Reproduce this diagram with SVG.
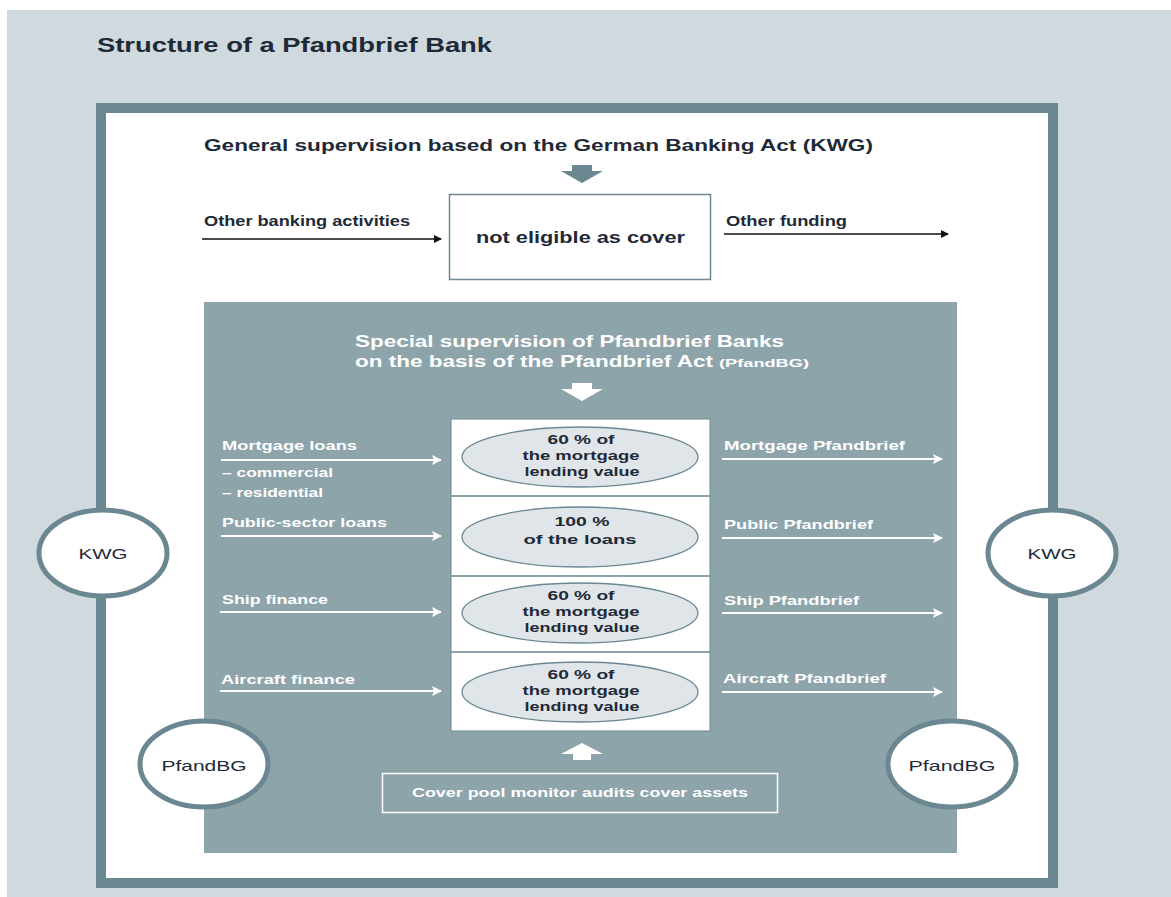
<svg xmlns="http://www.w3.org/2000/svg" width="1171" height="897" viewBox="0 0 1171 897">
<style>
text{font-family:"Liberation Sans","DejaVu Sans",sans-serif;font-weight:bold;}
.dk{fill:#1f2a38;}
.wt{fill:#ffffff;}
.t13{font-size:13px;}
.lbl{font-size:13.5px;}
.circ{fill:#ffffff;stroke:#6a8792;stroke-width:5;}
.inner{fill:#dfe5e8;stroke:#6a8792;stroke-width:1.3;}
.blk{stroke:#111111;stroke-width:1.6;fill:none;}
.wln{stroke:#ffffff;stroke-width:2;fill:none;}
.reg{font-weight:normal;font-size:15px;}
</style>
<defs>
<marker id="ab" markerWidth="8" markerHeight="8" refX="7" refY="4" orient="auto" markerUnits="userSpaceOnUse">
<path d="M0,0 L8,4 L0,8 Z" fill="#111111"/>
</marker>
<marker id="aw" markerWidth="10" markerHeight="10" refX="9" refY="5" orient="auto" markerUnits="userSpaceOnUse">
<path d="M0,0 L10,5 L0,10 L2,5 Z" fill="#ffffff"/>
</marker>
</defs>
<rect x="7" y="10" width="1164" height="887" fill="#d0d9dd"/>
<text x="97" y="52" class="dk" font-size="20" textLength="395" lengthAdjust="spacingAndGlyphs">Structure of a Pfandbrief Bank</text>
<g id="frame">
<rect x="101" y="108" width="952" height="775" fill="#ffffff" stroke="#6a8792" stroke-width="10"/>
</g>
<g id="general">
<text x="204" y="151" class="dk" font-size="17" textLength="669" lengthAdjust="spacingAndGlyphs">General supervision based on the German Banking Act (KWG)</text>
<path d="M572,165 H592 V171 H603 L582,183 L561,171 H572 Z" fill="#6a8792"/>
</g>
<g id="not-eligible">
<rect x="449.5" y="194.5" width="261" height="85" fill="#ffffff" stroke="#6a8792" stroke-width="1.5"/>
<text x="580.5" y="243" text-anchor="middle" class="dk" font-size="17" textLength="209" lengthAdjust="spacingAndGlyphs">not eligible as cover</text>
</g>
<g id="panel">
<rect x="204" y="302" width="753" height="551" fill="#8ea4ab"/>
<text x="355" y="347" class="wt" font-size="17" textLength="429" lengthAdjust="spacingAndGlyphs">Special supervision of Pfandbrief Banks</text>
<text x="355" y="367" class="wt" font-size="17" textLength="358" lengthAdjust="spacingAndGlyphs">on the basis of the Pfandbrief Act</text>
<text x="719" y="367" class="wt" font-size="11" textLength="90" lengthAdjust="spacingAndGlyphs">(PfandBG)</text>
<path d="M572,383 H592 V389 H603 L582,401 L561,389 H572 Z" fill="#ffffff"/>
<path d="M573,760 H591 V754 H603 L582,743 L561,754 H573 Z" fill="#ffffff"/>
</g>
<g id="cover-column">
<rect x="451" y="419" width="259" height="312" fill="#ffffff" stroke="#6a8792" stroke-width="1"/>
<line x1="451" y1="496" x2="710" y2="496" stroke="#6a8792" stroke-width="1.3"/>
<line x1="451" y1="576" x2="710" y2="576" stroke="#6a8792" stroke-width="1.3"/>
<line x1="451" y1="652" x2="710" y2="652" stroke="#6a8792" stroke-width="1.3"/>
</g>
<g id="cover-mortgage">
<ellipse cx="580" cy="457" rx="118" ry="30" class="inner"/>
<text x="581" y="444" text-anchor="middle" class="dk t13" textLength="67" lengthAdjust="spacingAndGlyphs">60 % of</text>
<text x="581" y="460" text-anchor="middle" class="dk t13" textLength="117" lengthAdjust="spacingAndGlyphs">the mortgage</text>
<text x="582" y="476" text-anchor="middle" class="dk t13" textLength="115" lengthAdjust="spacingAndGlyphs">lending value</text>
</g>
<g id="cover-public">
<ellipse cx="580" cy="537" rx="118" ry="30" class="inner"/>
<text x="582" y="526" text-anchor="middle" class="dk t13" textLength="55" lengthAdjust="spacingAndGlyphs">100 %</text>
<text x="580" y="544" text-anchor="middle" class="dk t13" textLength="113" lengthAdjust="spacingAndGlyphs">of the loans</text>
</g>
<g id="cover-ship">
<ellipse cx="580" cy="613" rx="118" ry="30" class="inner"/>
<text x="581" y="600" text-anchor="middle" class="dk t13" textLength="67" lengthAdjust="spacingAndGlyphs">60 % of</text>
<text x="581" y="616" text-anchor="middle" class="dk t13" textLength="117" lengthAdjust="spacingAndGlyphs">the mortgage</text>
<text x="582" y="632" text-anchor="middle" class="dk t13" textLength="115" lengthAdjust="spacingAndGlyphs">lending value</text>
</g>
<g id="cover-aircraft">
<ellipse cx="580" cy="692" rx="118" ry="30" class="inner"/>
<text x="581" y="679" text-anchor="middle" class="dk t13" textLength="67" lengthAdjust="spacingAndGlyphs">60 % of</text>
<text x="581" y="695" text-anchor="middle" class="dk t13" textLength="117" lengthAdjust="spacingAndGlyphs">the mortgage</text>
<text x="582" y="711" text-anchor="middle" class="dk t13" textLength="115" lengthAdjust="spacingAndGlyphs">lending value</text>
</g>
<g id="monitor">
<rect x="382.5" y="773.5" width="395" height="39" fill="none" stroke="#ffffff" stroke-width="1.5"/>
<text x="580" y="797" text-anchor="middle" class="wt t13" textLength="336" lengthAdjust="spacingAndGlyphs">Cover pool monitor audits cover assets</text>
</g>
<g id="labels-left">
<text x="204" y="226" class="dk" font-size="14" textLength="206" lengthAdjust="spacingAndGlyphs">Other banking activities</text>
<text x="222" y="450" class="wt lbl" textLength="135" lengthAdjust="spacingAndGlyphs">Mortgage loans</text>
<text x="222" y="477" class="wt t13" font-weight="normal" textLength="111" lengthAdjust="spacingAndGlyphs">– commercial</text>
<text x="222" y="497" class="wt t13" font-weight="normal" textLength="101" lengthAdjust="spacingAndGlyphs">– residential</text>
<text x="222" y="527" class="wt lbl" textLength="165" lengthAdjust="spacingAndGlyphs">Public-sector loans</text>
<text x="222" y="604" class="wt lbl" textLength="106" lengthAdjust="spacingAndGlyphs">Ship finance</text>
<text x="221" y="684" class="wt lbl" textLength="134" lengthAdjust="spacingAndGlyphs">Aircraft finance</text>
</g>
<g id="labels-right">
<text x="726" y="226" class="dk" font-size="14" textLength="121" lengthAdjust="spacingAndGlyphs">Other funding</text>
<text x="724" y="450" class="wt lbl" textLength="181" lengthAdjust="spacingAndGlyphs">Mortgage Pfandbrief</text>
<text x="724" y="529" class="wt lbl" textLength="149" lengthAdjust="spacingAndGlyphs">Public Pfandbrief</text>
<text x="724" y="605" class="wt lbl" textLength="135" lengthAdjust="spacingAndGlyphs">Ship Pfandbrief</text>
<text x="723" y="683" class="wt lbl" textLength="163" lengthAdjust="spacingAndGlyphs">Aircraft Pfandbrief</text>
</g>
<g id="connectors">
<line x1="202" y1="239" x2="441" y2="239" class="blk" marker-end="url(#ab)"/>
<line x1="724" y1="234" x2="948" y2="234" class="blk" marker-end="url(#ab)"/>
<line x1="221" y1="460" x2="441" y2="460" class="wln" marker-end="url(#aw)"/>
<line x1="221" y1="536" x2="441" y2="536" class="wln" marker-end="url(#aw)"/>
<line x1="220" y1="612" x2="441" y2="612" class="wln" marker-end="url(#aw)"/>
<line x1="220" y1="691" x2="441" y2="691" class="wln" marker-end="url(#aw)"/>
<line x1="722" y1="459" x2="942" y2="459" class="wln" marker-end="url(#aw)"/>
<line x1="722" y1="538" x2="942" y2="538" class="wln" marker-end="url(#aw)"/>
<line x1="722" y1="613" x2="942" y2="613" class="wln" marker-end="url(#aw)"/>
<line x1="722" y1="692" x2="942" y2="692" class="wln" marker-end="url(#aw)"/>
</g>
<g id="kwg-left">
<ellipse cx="103" cy="553" rx="64" ry="43" class="circ"/>
<text x="103" y="559" text-anchor="middle" class="dk reg" textLength="49" lengthAdjust="spacingAndGlyphs">KWG</text>
</g>
<g id="kwg-right">
<ellipse cx="1052" cy="553" rx="64" ry="43" class="circ"/>
<text x="1052" y="559" text-anchor="middle" class="dk reg" textLength="49" lengthAdjust="spacingAndGlyphs">KWG</text>
</g>
<g id="pfandbg-left">
<ellipse cx="204" cy="764" rx="64" ry="43" class="circ"/>
<text x="204" y="771" text-anchor="middle" class="dk reg" textLength="85" lengthAdjust="spacingAndGlyphs">PfandBG</text>
</g>
<g id="pfandbg-right">
<ellipse cx="952" cy="764" rx="64" ry="43" class="circ"/>
<text x="952" y="771" text-anchor="middle" class="dk reg" textLength="87" lengthAdjust="spacingAndGlyphs">PfandBG</text>
</g>
</svg>
